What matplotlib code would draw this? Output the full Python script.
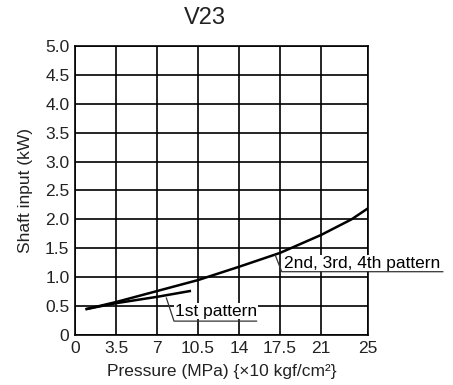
import matplotlib.pyplot as plt

plt.rcParams['font.family'] = ['Liberation Sans', 'DejaVu Sans']

# curve data
p_multi = [1.0, 3.5, 7.0, 10.5, 14.0, 17.5, 21.0, 23.6, 25.0]
kw_multi = [0.45, 0.57, 0.76, 0.95, 1.18, 1.42, 1.73, 2.0, 2.19]
p_first = [1.0, 3.5, 7.0, 9.8]
kw_first = [0.45, 0.55, 0.66, 0.76]

x_ticks = [0, 3.5, 7, 10.5, 14, 17.5, 21, 25]
x_labels = ['0', '3.5', '7', '10.5', '14', '17.5', '21', '25']
y_ticks = [0, 0.5, 1.0, 1.5, 2.0, 2.5, 3.0, 3.5, 4.0, 4.5, 5.0]
y_labels = ['0', '0.5', '1.0', '1.5', '2.0', '2.5', '3.0', '3.5', '4.0', '4.5', '5.0']

fig = plt.figure(figsize=(4.53, 3.85), dpi=100)
ax = fig.add_axes([0.1656, 0.1299, 0.6464, 0.7506])

ax.set_xlim(0, 25)
ax.set_ylim(0, 5)
ax.set_xticks(x_ticks)
ax.set_xticklabels(x_labels)
ax.set_yticks(y_ticks)
ax.set_yticklabels(y_labels)
ax.tick_params(length=0, labelsize=12.5, pad=4, colors='#222222')
ax.grid(True, color='black', linewidth=1.2)
ax.set_axisbelow(True)
for s in ax.spines.values():
    s.set_linewidth(1.2)

ax.plot(p_multi, kw_multi, color='black', linewidth=1.8, zorder=3)
ax.plot(p_first, kw_first, color='black', linewidth=1.8, zorder=3)

# leader lines and labels
ax.text(8.55, 0.415, '1st pattern', fontsize=12.5, va='center', ha='left', zorder=4,
        bbox=dict(facecolor='white', edgecolor='none', pad=0.5))
ax.plot([7.8, 8.45, 15.5], [0.64, 0.24, 0.24], color='#333333', linewidth=0.9, zorder=5)
ax.text(17.85, 1.245, '2nd, 3rd, 4th pattern', fontsize=12.5, va='center', ha='left', zorder=4,
        bbox=dict(facecolor='white', edgecolor='none', pad=0.5), clip_on=False)
ax.plot([17.1, 17.65, 31.4], [1.38, 1.095, 1.095], color='#333333', linewidth=0.9, zorder=5,
        clip_on=False)

ax.set_xlabel('Pressure (MPa) {×10 kgf/cm²}', fontsize=12.5, labelpad=6, color='#222222')
ax.set_ylabel('Shaft input (kW)', fontsize=12.5, labelpad=9, color='#222222')
fig.text(0.4525, 0.953, 'V23', fontsize=17, ha='center', va='center', color='#222222')

fig.savefig('out.png', dpi=100)
